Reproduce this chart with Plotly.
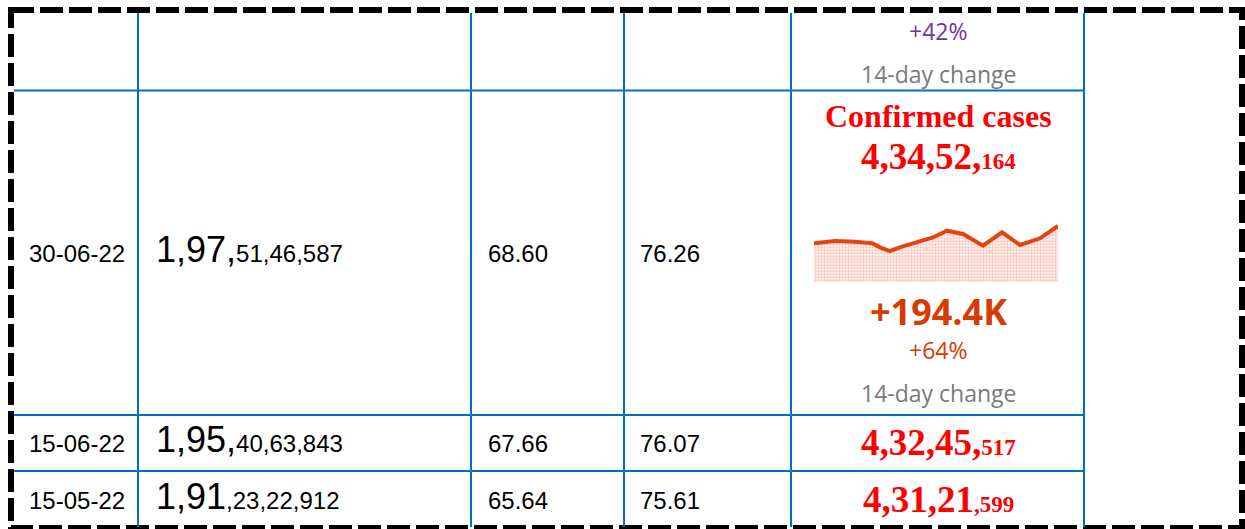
import plotly.graph_objects as go

# ---------------- data ----------------
dates = ["30-06-22", "15-06-22", "15-05-22"]
doses_big = ["1,97,", "1,95,", "1,91"]
doses_small = ["51,46,587", "40,63,843", ",23,22,912"]
pct_first = ["68.60", "67.66", "65.64"]
pct_second = ["76.26", "76.07", "75.61"]
cases_big = ["4,34,52,", "4,32,45,", "4,31,21"]
cases_small = ["164", "517", ",599"]

widget_title = "Confirmed cases"
widget_change = "+194.4K"
widget_pct = "+64%"
widget_prev_pct = "+42%"
widget_label = "14-day change"

# sparkline (14-day trend, relative daily cases)
spark_day = [0, 1.2, 2.35, 3.33, 3.79, 4.36, 5.05, 5.97, 6.83, 7.63, 8.55, 9.7, 10.79, 11.82, 12.97, 14.0]
spark_val = [38.7, 41, 40.3, 38.7, 34.7, 31, 35.3, 40.3, 44.5, 51.3, 48, 36.3, 49.7, 37, 43.7, 56]

# ---------------- layout geometry (pixels) ----------------
W, H = 1245, 529
BLUE = "#0070C0"
col_x = [138, 471, 624, 791, 1084]
row_y = [90.5, 415, 471]
row_center = [253, 443, 500]

SANS = "Liberation Sans, Arial, sans-serif"
SERIF = "Liberation Serif, Times New Roman, serif"
UI = "Open Sans, Segoe UI, sans-serif"

fig = go.Figure()

fig.add_trace(go.Scatter(
    x=spark_day, y=spark_val, mode="lines",
    line=dict(color="#E2450F", width=4, shape="linear"),
    fill="tozeroy",
    fillpattern=dict(shape=".", fgcolor="#F49A86", bgcolor="#FFF3F0", size=3, solidity=0.45),
    xaxis="x2", yaxis="y2", hoverinfo="skip", showlegend=False,
))

shapes = []
# dashed outer border
shapes.append(dict(type="rect", xref="x", yref="y", x0=11, x1=1242, y0=10, y1=528,
                   line=dict(color="black", width=6, dash="23px,6px")))
for cx in col_x:
    shapes.append(dict(type="line", xref="x", yref="y", x0=cx, x1=cx, y0=13, y1=527,
                       line=dict(color=BLUE, width=2)))
for ry in row_y:
    shapes.append(dict(type="line", xref="x", yref="y", x0=14, x1=col_x[-1], y0=ry, y1=ry,
                       line=dict(color=BLUE, width=2)))

ann = []
def add(text, x, y, size, color="black", family=SANS, xanchor="left", bold=False):
    if bold:
        text = "<b>" + text + "</b>"
    ann.append(dict(text=text, x=x, y=y, xref="x", yref="y", xanchor=xanchor, yanchor="middle",
                    showarrow=False, font=dict(size=size, color=color, family=family)))

for i in range(3):
    yc = row_center[i]
    add(dates[i], 27, yc, 24)
    add("<span style='font-size:36px'>%s</span><span style='font-size:24px'>%s</span>"
        % (doses_big[i], doses_small[i]), 154, yc - 4, 24)
    add(pct_first[i], 486, yc, 24)
    add(pct_second[i], 638, yc, 24)
    if i > 0:
        add("<span style='font-size:37px'>%s</span><span style='font-size:23px'>%s</span>"
            % (cases_big[i], cases_small[i]), 938, yc - 1, 23, color="#FF0000",
            family=SERIF, xanchor="center", bold=True)

# widget in row 1
add(widget_title, 938, 116, 32, color="#FF0000", family=SERIF, xanchor="center", bold=True)
add("<span style='font-size:37px'>%s</span><span style='font-size:23px'>%s</span>"
    % (cases_big[0], cases_small[0]), 938, 156, 23, color="#FF0000", family=SERIF,
    xanchor="center", bold=True)
add(widget_change, 938, 311, 36, color="#D83B01", family=UI, xanchor="center", bold=True)
add(widget_pct, 938, 350, 23, color="#D83B01", family=UI, xanchor="center")
add(widget_label, 938, 393, 23, color="#7A7A7A", family=UI, xanchor="center")
# header-row remnants of the previous widget
add(widget_prev_pct, 938, 31, 23, color="#7035A5", family=UI, xanchor="center")
add(widget_label, 938, 74, 23, color="#7A7A7A", family=UI, xanchor="center")

fig.update_layout(
    width=W, height=H, margin=dict(l=0, r=0, t=0, b=0),
    paper_bgcolor="white", plot_bgcolor="white",
    xaxis=dict(range=[0, W], domain=[0, 1], visible=False, fixedrange=True),
    yaxis=dict(range=[H, 0], domain=[0, 1], visible=False, fixedrange=True),
    xaxis2=dict(range=[0, 14], domain=[814 / W, 1058 / W], visible=False, anchor="y2"),
    yaxis2=dict(range=[0, 60], domain=[1 - 282 / H, 1 - 222 / H], visible=False, anchor="x2"),
    shapes=shapes, annotations=ann, showlegend=False,
)

fig.write_html("out.html", config={"displayModeBar": False},
               post_script="document.body.style.margin='0';document.body.style.overflow='hidden';")
